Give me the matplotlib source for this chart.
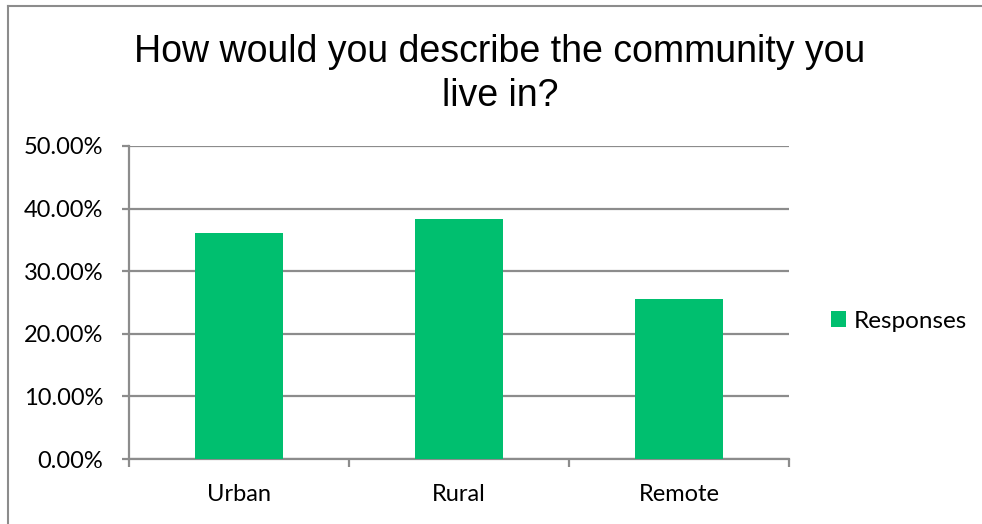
import matplotlib.pyplot as plt
from matplotlib.lines import Line2D
from matplotlib.ticker import FuncFormatter, MultipleLocator
import numpy as np

categories = ["Urban", "Rural", "Remote"]
responses = [36.13, 38.37, 25.50]
series_name = "Responses"
title_lines = ["How would you describe the community you", "live in?"]

bar_color = "#00BF6F"
grid_color = "#8C8C8C"

W, H = 982, 524
fig = plt.figure(figsize=(W / 100, H / 100), dpi=100)

# plot area in pixels: left 129, right 789, top 146 (50%), bottom 459 (0%)
ax = fig.add_axes([129 / W, 1 - 459 / H, (789 - 129) / W, (459 - 146) / H])

x = np.arange(len(categories))
ax.bar(x, responses, width=0.4, color=bar_color, zorder=3, label=series_name)

ax.set_xlim(-0.5, len(categories) - 0.5)
ax.set_ylim(0, 50)
ax.yaxis.set_major_locator(MultipleLocator(10))
ax.yaxis.set_major_formatter(FuncFormatter(lambda v, p: f"{v:.2f}%"))
ax.grid(axis="y", color=grid_color, linewidth=1.6, zorder=0)

# category ticks sit between groups, labels centred below each bar
ax.set_xticks(np.arange(len(categories) + 1) - 0.5)
ax.set_xticklabels([])
ax.set_xticks(x, minor=True)
ax.set_xticklabels(categories, minor=True)
ax.tick_params(axis="x", which="major", length=6, width=1.6, color=grid_color)
ax.tick_params(axis="x", which="minor", length=0, pad=18)
ax.tick_params(axis="y", length=5, width=1.6, color=grid_color, pad=13.5)

for lbl in ax.get_xticklabels(minor=True) + ax.get_yticklabels():
    lbl.set_fontfamily("Lato")
    lbl.set_fontsize(17)
    lbl.set_color("#000000")

for side in ["top", "right"]:
    ax.spines[side].set_visible(False)
for side in ["left", "bottom"]:
    ax.spines[side].set_color(grid_color)
    ax.spines[side].set_linewidth(1.6)

# two-line title, baselines at 62 px and 106 px from the top
for line, base in zip(title_lines, [62, 106]):
    fig.text(500 / W, 1 - base / H, line, ha="center", va="baseline",
             fontsize=27, family="Liberation Sans")

leg = fig.legend(loc="center left", bbox_to_anchor=(831 / W, 1 - 321 / H),
                 frameon=False, prop={"family": "Lato", "size": 17.5},
                 handlelength=0.62, handleheight=0.62, handletextpad=0.3,
                 borderpad=0, borderaxespad=0)

# outer chart border (top and left edges)
fig.add_artist(Line2D([8 / W, 8 / W], [0, 1 - 6 / H], transform=fig.transFigure,
                      color="#8C8C8C", linewidth=1.5))
fig.add_artist(Line2D([8 / W, 1], [1 - 6 / H, 1 - 6 / H], transform=fig.transFigure,
                      color="#8C8C8C", linewidth=1.5))

fig.savefig("out.png", dpi=100)
